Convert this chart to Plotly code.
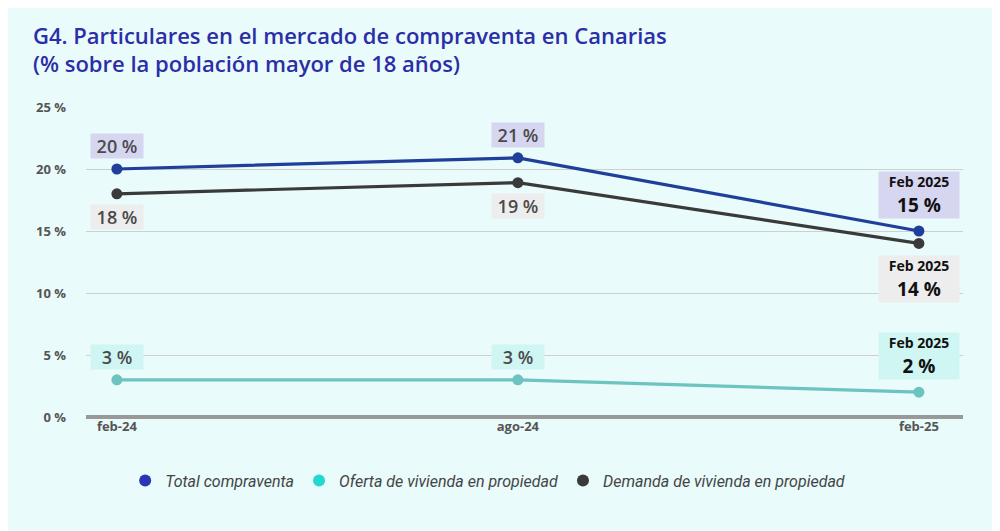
import plotly.graph_objects as go

# data
periods = ["feb-24", "ago-24", "feb-25"]
total = [20.0, 20.9, 15.0]
oferta = [3.0, 3.0, 2.0]
demanda = [18.0, 18.9, 14.0]
y_ticks = [0, 5, 10, 15, 20, 25]

BG = "#E9FBFB"
series = [
    # name, values, line colour, legend colour, box colour, label side
    ("Total compraventa", total, "#1F3F9A", "#2B35B5", "#D6D6F1", 1),
    ("Oferta de vivienda en propiedad", oferta, "#6CC3C0", "#22D8D0", "#CFF6F3", 1),
    ("Demanda de vivienda en propiedad", demanda, "#3A3A3A", "#3A3A3A", "#EDEDED", -1),
]

fig = go.Figure()
for name, vals, col, leg_col, box, side in series:
    fig.add_trace(go.Scatter(x=periods, y=vals, mode="lines+markers", name=name,
                             line=dict(color=col, width=3.2),
                             marker=dict(color=col, size=11), showlegend=False))
    # legend-only dummy so the legend dot colour can differ from the line
    fig.add_trace(go.Scatter(x=[None], y=[None], mode="markers", name=name,
                             marker=dict(color=leg_col, size=12)))

annotations = []
for name, vals, col, leg_col, box, side in series:
    for i, (p, v) in enumerate(zip(periods, vals)):
        if i < len(periods) - 1:
            annotations.append(dict(
                x=p, y=v, xref="x", yref="y", showarrow=False,
                text=f"{v:.0f} %", yshift=side * 23,
                font=dict(family="Open Sans", size=18, color="#4A4A4A", weight=600),
                bgcolor=box, borderpad=1, width=50, height=22))
        else:
            annotations.append(dict(
                x=p, y=v, xref="x", yref="y", showarrow=False,
                text=f"<span style='font-size:14px'>Feb 2025</span><br>{v:.0f} %",
                yshift=side * 36,
                font=dict(family="Open Sans", size=19, color="#111111", weight="bold"),
                bgcolor=box, borderpad=2, width=76, height=42))
fig.update_layout(annotations=annotations)

fig.update_layout(
    width=1000, height=531,
    paper_bgcolor=BG, plot_bgcolor=BG,
    margin=dict(l=78, r=45, t=99, b=122),
    title=dict(text="G4. Particulares en el mercado de compraventa en Canarias<br>(% sobre la población mayor de 18 años)",
               x=0.025, xanchor="left", y=0.933, yanchor="top",
               font=dict(family="Open Sans", size=22, color="#2B2EA6", weight=600)),
    legend=dict(orientation="h", x=0.458, xanchor="center", y=-0.15, yanchor="top",
                font=dict(family="Roboto", size=16, color="#444444", style="italic"),
                itemwidth=30, bgcolor="rgba(0,0,0,0)"),
    xaxis=dict(type="category", range=[-0.077, 2.11], showgrid=False, ticks="",
               tickfont=dict(family="Open Sans", size=13, color="#555555", weight="bold")),
    yaxis=dict(range=[0, 25], tickvals=y_ticks, ticktext=[f"{t} %" for t in y_ticks],
               gridcolor="#CFCFCF", gridwidth=1, zeroline=True, zerolinecolor="#999999",
               zerolinewidth=4, ticks="", ticklabelstandoff=19,
               tickfont=dict(family="Open Sans", size=13, color="#555555", weight="bold")),
)

fig.write_html("out.html")
